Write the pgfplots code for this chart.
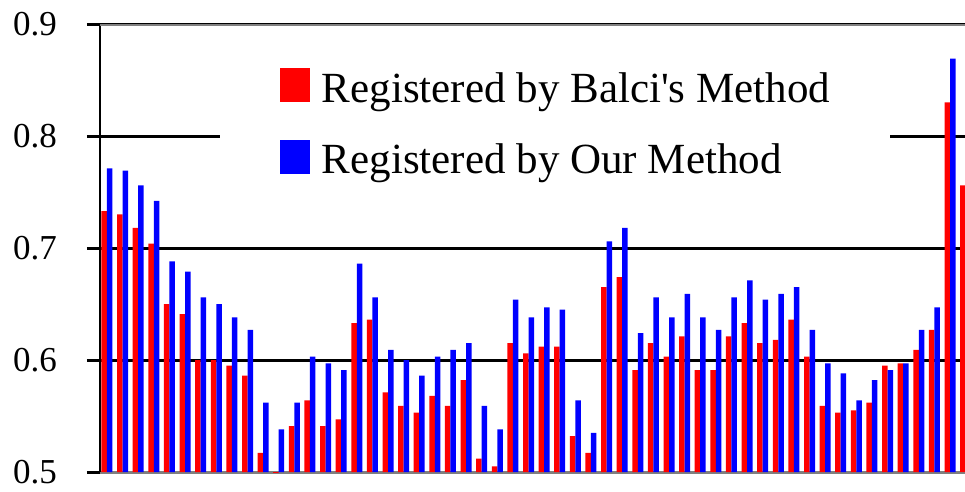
\documentclass[border=0pt]{standalone}
\usepackage{fontspec}
\setmainfont{Liberation Serif}
\usepackage{pgfplots}
\usepackage{pgfplotstable}
\pgfplotsset{compat=1.18}

% x = image pair, red = Balci's method, blue = our method
\pgfplotstableread{
x red blue
1 0.733 0.771
2 0.730 0.769
3 0.718 0.756
4 0.704 0.742
5 0.650 0.688
6 0.641 0.679
7 0.600 0.656
8 0.600 0.650
9 0.595 0.638
10 0.586 0.627
11 0.517 0.562
12 0.495 0.538
13 0.541 0.562
14 0.564 0.603
15 0.541 0.597
16 0.547 0.591
17 0.633 0.686
18 0.636 0.656
19 0.571 0.609
20 0.559 0.600
21 0.553 0.586
22 0.568 0.603
23 0.559 0.609
24 0.582 0.615
25 0.512 0.559
26 0.505 0.538
27 0.615 0.654
28 0.606 0.638
29 0.612 0.647
30 0.612 0.645
31 0.532 0.564
32 0.517 0.535
33 0.665 0.706
34 0.674 0.718
35 0.591 0.624
36 0.615 0.656
37 0.603 0.638
38 0.621 0.659
39 0.591 0.638
40 0.591 0.627
41 0.621 0.656
42 0.633 0.671
43 0.615 0.654
44 0.618 0.659
45 0.636 0.665
46 0.603 0.627
47 0.559 0.597
48 0.553 0.588
49 0.555 0.564
50 0.562 0.582
51 0.595 0.591
52 0.597 0.597
53 0.609 0.627
54 0.627 0.647
55 0.830 0.869
56 0.756 0.790
}\scores

\pgfplotsset{
    sqlegend/.style={legend image code/.code={
        \fill[#1] (0pt,0pt) rectangle (30pt,34pt);}},
}

\begin{document}
\begin{tikzpicture}
\useasboundingbox (-100pt,-19pt) rectangle (865pt,472pt);
\begin{axis}[
    at={(0pt,0pt)}, anchor=south west,
    scale only axis,
    width=865pt, height=448pt,
    xmin=0.5516, xmax=55.96,
    ymin=0.5, ymax=0.9,
    ybar=0pt, bar width=5.5pt,
    axis x line*=bottom, axis y line*=left,
    x axis line style={gray, line width=3pt},
    y axis line style={black, line width=2pt},
    xtick=\empty,
    ytick={0.5,0.6,0.7,0.8,0.9},
    ytick pos=left,
    tick align=outside,
    major tick length=13pt,
    major tick style={black, line width=3pt},
    ymajorgrids,
    major grid style={black, line width=3pt},
    /pgf/number format/.cd, fixed, fixed zerofill, precision=1, assume math mode=true,
    /pgfplots/.cd,
    yticklabel style={font=\fontsize{35}{40}\selectfont, anchor=east, inner sep=0pt, xshift=-30pt},
    legend style={at={(0.526,0.782)}, anchor=center, draw=none, fill=white,
        font=\fontsize{43}{50}\selectfont,
        inner xsep=60pt, inner ysep=16pt,
        column sep=12pt, row sep=36pt,
        nodes={inner sep=0pt},
        cells={anchor=base west}},
]
\addplot[fill=red, draw=none, sqlegend=red] table[x=x, y=red] {\scores};
\addplot[fill=blue, draw=none, sqlegend=blue] table[x=x, y=blue] {\scores};
\legend{Registered by Balci\textquotesingle s Method, Registered by Our Method}
\draw[gray, line width=3pt] (rel axis cs:0,1) -- (rel axis cs:1,1);
\end{axis}
\end{tikzpicture}
\end{document}
